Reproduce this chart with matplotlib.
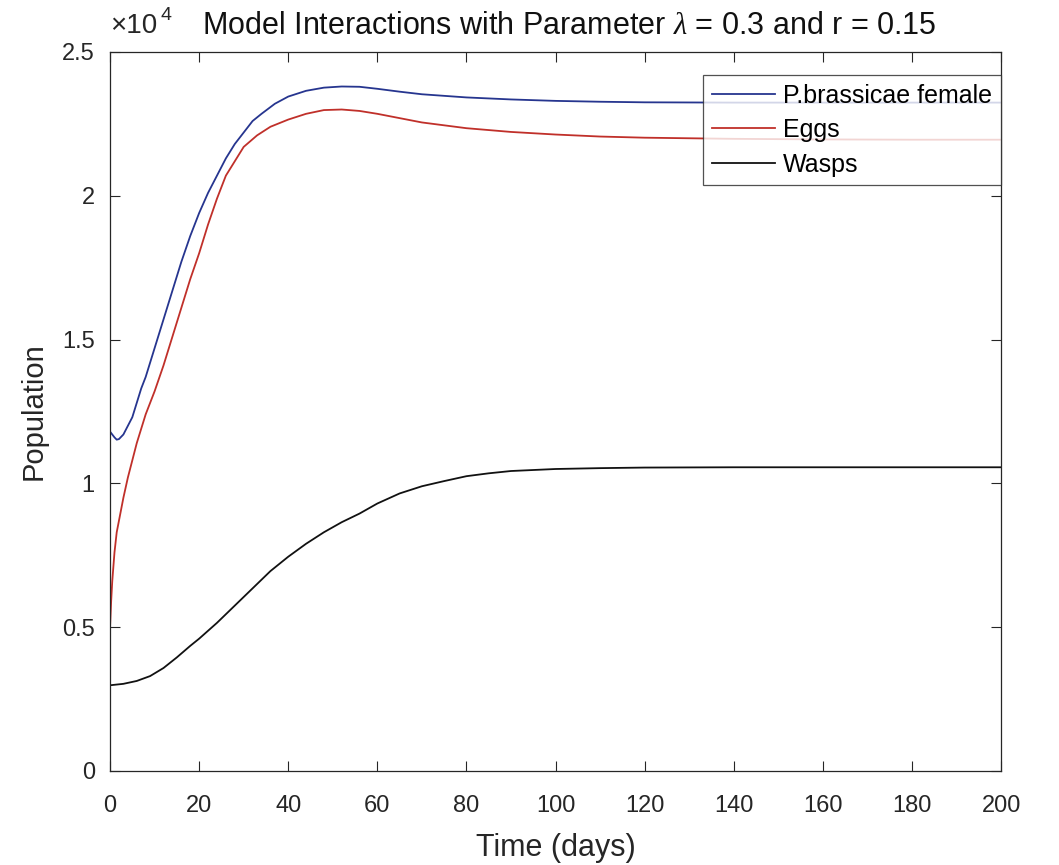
import matplotlib
matplotlib.use("Agg")
import matplotlib.pyplot as plt
from matplotlib.ticker import FuncFormatter

plt.rcParams['font.family'] = ['Liberation Sans', 'DejaVu Sans']
plt.rcParams['mathtext.fontset'] = 'custom'
plt.rcParams['mathtext.rm'] = 'Liberation Sans'
plt.rcParams['mathtext.it'] = 'Liberation Serif:italic'

# P.brassicae female
t_female = [0, 1, 1.5, 2, 3, 4, 5, 6, 7, 8, 10, 12, 14, 16, 18, 20, 22, 24, 26, 28, 30,
            32, 34, 37, 40, 44, 48, 52, 56, 60, 65, 70, 80, 90, 100, 110, 120, 140, 160, 180, 200]
female = [11800, 11600, 11520, 11540, 11700, 12000, 12300, 12800, 13300, 13700, 14700, 15700,
          16700, 17700, 18600, 19400, 20100, 20700, 21300, 21800, 22200, 22600, 22850, 23200,
          23450, 23650, 23760, 23800, 23790, 23720, 23620, 23530, 23420, 23350, 23300, 23270,
          23250, 23240, 23240, 23240, 23240]

# Eggs
t_eggs = [0, 0.25, 0.5, 1, 1.5, 2, 3, 4, 5, 6, 7, 8, 10, 12, 14, 16, 18, 20, 22, 24, 26, 28,
          30, 33, 36, 40, 44, 48, 52, 56, 60, 65, 70, 80, 90, 100, 110, 120, 140, 160, 180, 200]
eggs = [5000, 5900, 6600, 7600, 8300, 8700, 9500, 10200, 10800, 11400, 11900, 12400, 13200,
        14100, 15100, 16100, 17100, 18000, 19000, 19900, 20700, 21200, 21700, 22100, 22400,
        22650, 22850, 22980, 23000, 22950, 22850, 22700, 22550, 22350, 22220, 22130, 22060,
        22020, 21980, 21960, 21950, 21950]

# Wasps
t_wasps = [0, 3, 6, 9, 12, 15, 18, 20, 24, 28, 32, 36, 40, 44, 48, 52, 56, 60, 65, 70, 75,
           80, 85, 90, 100, 110, 120, 140, 160, 200]
wasps = [2980, 3030, 3130, 3300, 3580, 3950, 4350, 4600, 5150, 5750, 6350, 6950, 7450, 7900,
         8300, 8650, 8950, 9300, 9650, 9900, 10080, 10250, 10350, 10430, 10500, 10530, 10550,
         10560, 10560, 10560]

fig = plt.figure(figsize=(10.59, 8.65), dpi=100)
ax = fig.add_axes([0.1039, 0.1087, 0.8414, 0.8312])

ax.plot(t_female, female, color='#26358f', lw=1.3, label='P.brassicae female')
ax.plot(t_eggs, eggs, color='#c0302a', lw=1.3, label='Eggs')
ax.plot(t_wasps, wasps, color='#111111', lw=1.3, label='Wasps')

ax.set_xlim(0, 200)
ax.set_ylim(0, 25000)
ax.set_xticks(range(0, 201, 20))
ax.set_yticks([0, 5000, 10000, 15000, 20000, 25000])
ax.yaxis.set_major_formatter(FuncFormatter(lambda v, p: f"{v/1e4:g}"))
ax.tick_params(direction='in', top=True, right=True, labelsize=17, length=7,
               width=0.8, colors='#262626')
ax.tick_params(axis='x', pad=17)
ax.tick_params(axis='y', pad=11)
for s in ax.spines.values():
    s.set_linewidth(0.9)
    s.set_color('#262626')

# exponent label, MATLAB style
ax.annotate('\u00d710', xy=(0, 1), xycoords='axes fraction', xytext=(0, 14),
            textcoords='offset points', fontsize=20, color='#262626',
            ha='left', va='baseline')
ax.annotate('4', xy=(0, 1), xycoords='axes fraction', xytext=(36, 23),
            textcoords='offset points', fontsize=14, color='#262626',
            ha='left', va='baseline')

ax.set_title(r'Model Interactions with Parameter $\lambda$ = 0.3 and r = 0.15',
             fontsize=22, x=0.515, pad=13, color='#111111')
ax.set_xlabel('Time (days)', fontsize=22, color='#262626', labelpad=12)
ax.set_ylabel('Population', fontsize=21, color='#262626', labelpad=10)

leg = ax.legend(loc='upper right', bbox_to_anchor=(1.0, 0.968), fontsize=18,
                frameon=True, fancybox=False, handlelength=2.5, handletextpad=0.35,
                borderpad=0.35, labelspacing=0.42, borderaxespad=0.0)
leg.get_frame().set_edgecolor('#262626')
leg.get_frame().set_linewidth(0.9)

fig.savefig('out.png', dpi=100)
